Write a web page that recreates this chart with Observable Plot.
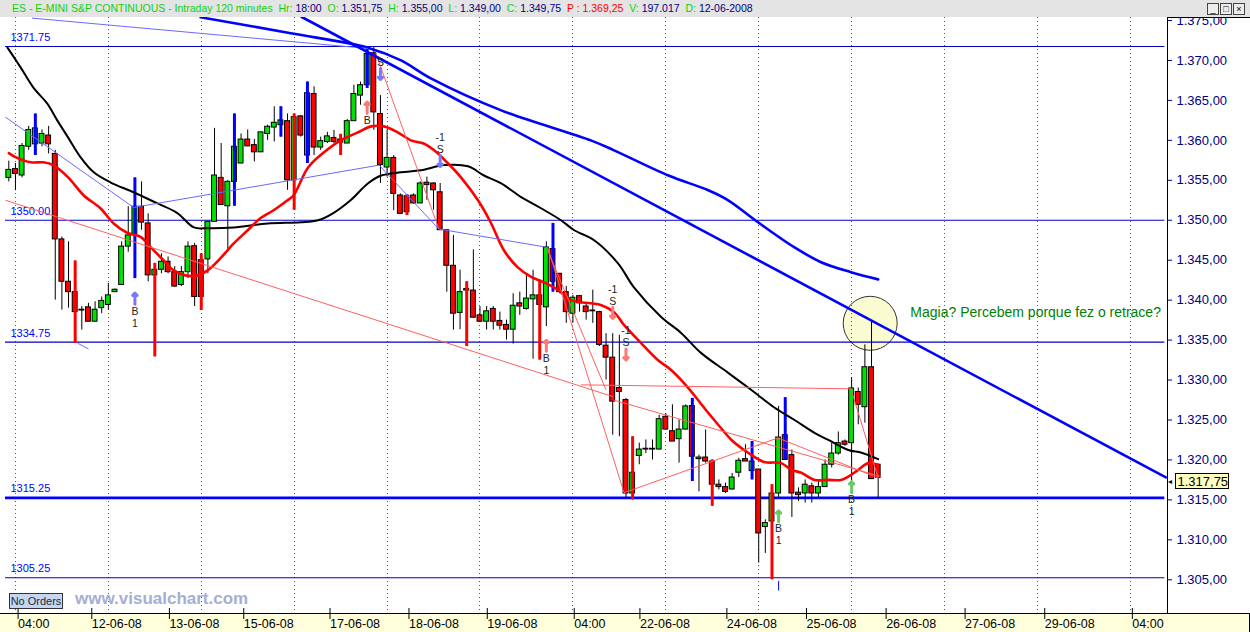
<!DOCTYPE html>
<html><head><meta charset="utf-8">
<script src="https://cdn.jsdelivr.net/npm/d3@7"></script>
<script src="https://cdn.jsdelivr.net/npm/@observablehq/plot@0.6"></script>
<style>
body{margin:0;background:#fff;}
#wrap{position:relative;width:1250px;height:632px;overflow:hidden;font-family:"Liberation Sans",Arial,sans-serif;}
#hdr{position:relative;height:17px;background:#e4e4e4;font-size:10.5px;line-height:17px;padding-left:12px;white-space:nowrap;box-sizing:border-box;}
#hdr .g{color:#10d010}#hdr .n{color:#000080}#hdr .r{color:#ff0000}
#btns{position:absolute;right:5px;top:3px;display:flex;gap:1px;}
#btns span{display:inline-block;width:10px;height:10px;border:1px solid #444;background:#ececec;font-size:9px;line-height:10px;text-align:center;color:#000;}
#chart svg{display:block;}
</style></head>
<body><div id="wrap">
<div id="hdr"><span class="g">ES - E-MINI S&amp;P CONTINUOUS - Intraday 120 minutes&nbsp; Hr: </span><span class="n">18:00</span><span class="g">&nbsp; O: </span><span class="n">1.351,75</span><span class="g">&nbsp; H: </span><span class="n">1.355,00</span><span class="g">&nbsp; L: </span><span class="n">1.349,00</span><span class="g">&nbsp; C: </span><span class="n">1.349,75</span><span class="r">&nbsp; P : 1.369,25</span><span class="g">&nbsp; V: </span><span class="n">197.017</span><span class="g">&nbsp; D: </span><span class="n">12-06-2008</span>
<div id="btns"><span>_</span><span>□</span><span>×</span></div></div>
<div id="chart"></div>
</div>
<script>
// ---- candle data (120-minute bars, index 0..131) ----
const open = [1355.3,1356.4,1355.6,1359.2,1359.5,1359.6,1360.6,1358.3,1347.6,1342.3,1341.0,1338.8,1339.1,1337.3,1339.0,1339.4,1341.0,1341.9,1346.7,1348.3,1351.7,1349.6,1343.1,1343.8,1344.8,1343.5,1341.9,1343.5,1346.75,1345.0,1345.1,1349.8,1355.3,1351.75,1354.8,1357.1,1360.1,1359.4,1358.5,1360.8,1361.6,1361.9,1362.4,1355.0,1363.0,1358.1,1365.8,1359.1,1359.8,1360.3,1360.1,1359.6,1362.4,1365.6,1366.9,1370.9,1363.3,1356.6,1357.8,1353.1,1353.0,1353.1,1352.1,1354.7,1354.6,1353.5,1348.75,1344.3,1338.4,1341.4,1341.2,1338.1,1337.3,1338.9,1337.4,1336.9,1336.3,1339.6,1338.9,1340.1,1340.6,1339.1,1346.4,1343.3,1341.0,1338.3,1340.5,1339.2,1338.7,1338.5,1334.3,1332.8,1329.0,1327.5,1315.8,1320.5,1321.3,1321.3,1321.3,1325.4,1323.6,1322.6,1323.8,1326.75,1320.1,1320.3,1319.8,1316.9,1316.6,1316.3,1318.4,1320.1,1318.6,1318.8,1311.6,1312.3,1315.8,1323.1,1320.6,1315.9,1315.8,1316.7,1315.8,1316.6,1319.4,1320.8,1322.3,1322.1,1328.5,1326.6,1331.6,1319.4];
const high = [1357.4,1357.1,1359.6,1361.75,1363.3,1361.3,1361.75,1358.75,1347.9,1347.3,1344.9,1339.2,1339.6,1339.8,1340.4,1342.1,1341.4,1347.3,1351.7,1355.3,1354.8,1350.8,1344.6,1345.8,1345.4,1344.2,1344.2,1347.3,1347.1,1345.8,1349.8,1361.5,1359.6,1355.0,1363.3,1360.8,1361.3,1360.1,1361.0,1361.9,1364.2,1364.2,1363.3,1363.3,1363.1,1367.3,1366.7,1360.4,1361.0,1361.25,1360.75,1362.6,1366.9,1367.3,1371.6,1371.75,1365.6,1361.3,1358.1,1353.3,1353.2,1353.3,1354.8,1355.4,1354.7,1354.6,1348.75,1348.1,1343.75,1342.3,1346.3,1339.2,1339.2,1339.2,1338.5,1337.5,1340.8,1341.0,1343.3,1343.75,1342.5,1347.3,1349.6,1343.3,1341.7,1340.6,1340.6,1339.6,1341.25,1338.6,1335.8,1335.8,1335.6,1327.7,1322.9,1322.1,1322.5,1322.5,1325.6,1325.8,1326.9,1325.0,1326.9,1327.7,1320.6,1323.75,1320.0,1317.5,1317.1,1318.3,1320.2,1321.9,1322.3,1318.8,1312.5,1316.9,1326.7,1327.8,1321.25,1316.5,1317.5,1317.1,1317.3,1320.0,1322.1,1323.5,1322.5,1330.3,1329.0,1334.4,1337.3,1319.4];
const low = [1354.8,1353.7,1355.3,1358.75,1358.1,1359.2,1358.3,1340.0,1338.75,1339.0,1334.6,1336.25,1337.3,1337.3,1338.3,1338.75,1341.0,1341.9,1346.0,1342.7,1348.75,1342.3,1332.9,1343.3,1343.3,1341.6,1341.7,1342.7,1339.2,1338.7,1343.3,1349.8,1351.9,1346.25,1351.75,1357.1,1359.2,1357.3,1358.5,1360.0,1359.8,1360.4,1353.75,1351.25,1360.4,1357.1,1358.1,1358.75,1359.6,1359.6,1358.1,1359.6,1362.4,1364.4,1366.5,1361.25,1354.6,1355.4,1351.2,1350.8,1350.6,1352.0,1352.1,1352.5,1351.25,1348.75,1341.0,1336.25,1336.3,1334.2,1337.8,1337.2,1336.25,1336.25,1336.25,1335.0,1334.5,1338.1,1338.75,1332.6,1332.5,1336.7,1341.0,1340.8,1337.1,1337.1,1338.5,1337.5,1337.1,1334.2,1330.0,1323.1,1322.9,1315.2,1315.0,1319.4,1320.8,1320.0,1321.25,1323.75,1322.3,1319.6,1323.75,1317.3,1316.0,1319.6,1314.2,1316.25,1315.8,1316.25,1317.8,1319.8,1317.5,1307.1,1308.3,1305.0,1315.2,1320.0,1312.8,1314.8,1314.6,1314.6,1315.2,1316.6,1319.0,1320.6,1321.7,1316.9,1324.4,1324.6,1317.6,1315.2];
const close = [1356.3,1355.8,1359.3,1361.3,1361.5,1360.8,1359.5,1347.6,1342.3,1341.0,1338.5,1338.7,1337.3,1338.8,1339.9,1340.6,1341.3,1346.7,1348.1,1351.7,1349.7,1343.1,1343.8,1344.8,1343.5,1341.7,1343.5,1346.7,1340.4,1340.4,1349.8,1355.6,1351.9,1354.8,1359.2,1360.1,1359.25,1358.5,1361.0,1361.7,1362.2,1362.5,1355.0,1362.9,1360.6,1365.9,1359.1,1359.9,1360.5,1359.8,1359.7,1362.4,1365.8,1366.9,1370.8,1363.5,1356.9,1357.8,1353.3,1350.8,1351.0,1352.1,1354.6,1354.4,1353.75,1348.75,1344.3,1338.3,1341.0,1341.2,1337.8,1337.3,1338.6,1337.3,1336.8,1336.3,1339.3,1339.2,1340.2,1340.6,1339.4,1346.6,1342.3,1341.0,1338.5,1340.3,1339.6,1338.5,1338.6,1334.4,1332.8,1327.3,1328.5,1315.8,1318.4,1321.3,1321.35,1321.35,1325.1,1323.8,1322.3,1323.8,1326.7,1320.4,1320.3,1319.8,1316.9,1316.6,1316.0,1317.8,1319.9,1319.8,1319.8,1310.8,1312.1,1315.8,1322.8,1320.0,1315.8,1315.6,1316.9,1315.8,1316.6,1319.4,1320.8,1322.1,1321.9,1328.95,1326.9,1331.6,1317.6,1317.75];

// ---- coloured signal bars (index, top, bottom) ----
const blueBarIdx = [4,19,34,41,45,54,82,103,112,117];
const blueBarTop = [1363.3,1355.3,1363.3,1364.2,1367.3,1371.6,1349.6,1327.7,1322.3,1327.8];
const blueBarBot = [1358.1,1342.7,1351.75,1360.4,1357.1,1366.5,1341.0,1317.3,1317.5,1320.0];
const redBarIdx = [10,22,29,43,50,60,69,80,94,106,115];
const redBarTop = [1344.9,1344.6,1345.8,1363.3,1360.75,1353.2,1342.3,1342.5,1322.9,1320.0,1316.9];
const redBarBot = [1334.6,1332.9,1338.7,1351.25,1358.1,1350.6,1334.2,1332.5,1315.0,1314.2,1305.0];

// ---- moving averages (bar index, price) ----
const redMA = [[0,1358.4],[1,1357.9],[3.3,1357.25],[5.2,1357.25],[6.7,1356.9],[8.9,1355.4],[11.3,1353.1],[13.8,1351.5],[15.8,1349.6],[17.9,1348.4],[19.9,1347.9],[21.4,1346.6],[23.3,1345.0],[24.8,1343.75],[26.6,1343.1],[28.5,1343.1],[30,1343.75],[31.9,1345.25],[33.9,1347.1],[36,1348.75],[37.9,1350.25],[39.9,1351.25],[42,1352.5],[42.9,1353.1],[45.1,1356.6],[47.5,1358.5],[50,1360.0],[52.6,1361.0],[54.6,1361.75],[56.5,1361.75],[58.6,1361.0],[60.6,1360.0],[62.5,1359.6],[64.1,1358.75],[66.2,1357.1],[68.1,1355.4],[70.7,1352.5],[72.6,1349.75],[74.6,1346.25],[76.7,1344.1],[78.7,1342.9],[80.6,1342.25],[82.8,1341.25],[84.7,1340.0],[87.7,1339.6],[89.2,1339.4],[91.2,1338.5],[92.7,1336.9],[95.3,1334.6],[97.8,1332.5],[99.8,1331.25],[102.4,1329.0],[104.8,1326.5],[106.9,1324.4],[108.9,1322.5],[111.4,1320.9],[113.8,1319.75],[116.4,1319.6],[117.9,1318.75],[119.4,1318.4],[121.4,1317.5],[123.5,1317.5],[125.4,1317.5],[126.5,1317.9],[128,1318.75],[129.5,1319.6],[131,1319.4]];
const blackMA = [[-0.2,1371.6],[1.8,1369.1],[3.7,1366.6],[5.8,1364.6],[7.3,1362.5],[8.9,1360.4],[10.8,1357.9],[12.8,1356.0],[15.3,1354.75],[18.8,1353.5],[22.4,1352.1],[25.4,1350.9],[27.9,1349.1],[30,1349.0],[33.9,1349.1],[39,1349.6],[44,1349.75],[46.6,1350.0],[48.9,1350.9],[51.5,1352.5],[54.1,1354.6],[56.1,1355.6],[59.1,1356.0],[62.1,1356.25],[65.6,1356.9],[69.2,1356.75],[71.6,1355.6],[74.2,1354.6],[77.2,1352.9],[80.2,1351.5],[83.2,1350.0],[85.2,1348.75],[88.2,1347.5],[91.8,1344.6],[94.2,1341.6],[98.3,1337.9],[101.3,1335.9],[104.3,1333.4],[108.4,1330.9],[111.9,1328.75],[115.3,1326.6],[118.4,1325.0],[121.4,1323.4],[123.5,1322.5],[126.5,1321.25],[128.5,1320.9],[131,1320.1]];
const blueMA = [[28.9,1375.4],[42.5,1373.4],[54.1,1371.6],[59.1,1370.0],[63.6,1367.75],[74.2,1363.75],[87.7,1360.0],[91.2,1358.75],[99.4,1355.6],[105.4,1353.75],[108.4,1352.5],[112.9,1349.75],[118.4,1346.6],[122.4,1344.75],[126.9,1343.5],[131,1342.6]];

// ---- drawn trend lines [i1, p1, i2, p2] ----
const mainTrend = [[44,1375.5,174.5,1317.75]];
const thinBlue = [[-0.5,1362.9,18.8,1351.6],[18.8,1351.6,55.8,1356.9],[55.8,1356.9,64.8,1348.9],[64.8,1348.9,81.2,1346.6],[3.5,1375.3,54.1,1371.5],[10.4,1334.6,12,1333.9]];
const thinRed = [[-0.5,1352.5,91.1,1327.9],[55.3,1370.9,64.8,1348.9],[81.2,1346.6,92.7,1315.9],[81.2,1346.25,90,1328.75],[86.2,1329.4,126.9,1328.9],[91.1,1327.5,131.5,1317.9],[92.7,1315.9,115.9,1322.75],[115.9,1322.75,131,1317.75],[126.9,1328.9,131,1317.75]];

// ---- horizontal levels ----
const levels = [1371.75,1350.00,1334.75,1315.25,1305.25];
const levelLabels = ["1371.75","1350.00","1334.75","1315.25","1305.25"];

// ---- buy / sell signals ----
const sigIdx   = [19,54,56,65,81,91,93,116,127];
const sigPrice = [1339.5,1363.4,1369.0,1358.1,1333.6,1339.1,1333.9,1312.25,1315.9];
const sigSide  = ["B","B","S","S","B","S","S","B","B"];
const sigColor = ["#7878ff","#ff7878","#7878ff","#7878ff","#ff7878","#ff7878","#ff7878","#66cc66","#66cc66"];
const sigQty   = ["1","","","-1","1","-1","-1","1","1"];

// ---- axis ticks ----
const priceTicks = [1305,1310,1315,1320,1325,1330,1335,1340,1345,1350,1355,1360,1365,1370,1375];
const gridIdx = [1,15,29,43,57,71,85,99,113,127,141,155,169];
const timeTickIdx = [1.1,12.2,23.9,35.1,48.1,60,71.8,84.9,94.8,107.9,119.9,131.9,143.8,155.8,169.0];
const timeTickLabels = ["04:00","12-06-08","13-06-08","15-06-08","17-06-08","18-06-08","19-06-08","04:00","22-06-08","24-06-08","25-06-08","26-06-08","27-06-08","29-06-08","04:00"];

// ---- annotation ----
const noteText = "Magia? Percebem porque fez o retrace?";
const noteIdx = 135.85, notePrice = 1338.4;
const circleIdx = 129.8, circlePrice = 1337.1;
const lastClose = close[close.length - 1];

// ---------------------------------------------------------------
const bars = open.map((o, i) => ({i, o, h: high[i], l: low[i], c: close[i]}));
const blueBars = blueBarIdx.map((i, k) => ({i, t: blueBarTop[k], b: blueBarBot[k]}));
const redBars = redBarIdx.map((i, k) => ({i, t: redBarTop[k], b: redBarBot[k]}));
const sigs = sigIdx.map((i, k) => ({i, p: sigPrice[k], side: sigSide[k], color: sigColor[k], qty: sigQty[k]}));
const ups = sigs.filter(s => s.side === "B"), downs = sigs.filter(s => s.side === "S");
const tickLabel = new Map(timeTickIdx.map((v, k) => [v, timeTickLabels[k]]));
const fmtAxis = d => "1." + String(d - 1000) + ",00";
const fmtFull = p => { const s = p.toFixed(2).split("."); return "1." + (+s[0] - 1000) + "," + s[1]; };
const seg = arr => arr.map(a => ({x1: a[0], y1: a[1], x2: a[2], y2: a[3]}));
const pts = arr => arr.map(a => ({x: a[0], y: a[1]}));

const GREEN = "#00e000", RED = "#ff0000";
const W = 1250, H = 615, FR = 1167, FB = 596;

const chart = Plot.plot({
  width: W, height: H,
  marginLeft: 0, marginRight: W - FR, marginTop: 0, marginBottom: H - FB,
  x: {domain: [-1.252, 174.6], range: [0, FR]},
  y: {domain: [1300.78, 1375.375], range: [FB, 0]},
  style: {fontFamily: '"Liberation Sans", Arial, sans-serif', background: "transparent", overflow: "visible"},
  marks: [
    Plot.dot([0], {x: () => circleIdx, y: () => circlePrice, r: 27, fill: "#fbfbd2", stroke: "#333", strokeWidth: 1}),
    Plot.ruleX(gridIdx, {stroke: "#5a5a5a", strokeDasharray: "1,3", strokeWidth: 1, shapeRendering: "crispEdges"}),
    Plot.ruleY(levels.filter(v => v !== 1315.25), {x1: -0.5, x2: 174.2, stroke: "#0000c8", strokeWidth: 1.1}),
    Plot.ruleY([1315.25], {x1: -0.5, x2: 174.2, stroke: "#0000ff", strokeWidth: 2.6}),
    Plot.text(levels, {y: d => d, text: (d, k) => levelLabels[k], frameAnchor: "left", dx: 10, dy: -9, textAnchor: "start", fill: "#0000ff", fontSize: 11}),
    // candles
    Plot.ruleX(bars, {x: "i", y1: "l", y2: "h", stroke: "#000", strokeWidth: 1}),
    Plot.rect(bars, {
      x1: d => d.i - 0.37, x2: d => d.i + 0.37,
      y1: d => Math.min(d.o, d.c), y2: d => Math.max(Math.max(d.o, d.c), Math.min(d.o, d.c) + 0.1),
      fill: d => d.c >= d.o ? GREEN : RED, stroke: "#000", strokeWidth: 1
    }),
    Plot.ruleX(redBars, {x: "i", y1: "b", y2: "t", stroke: RED, strokeWidth: 3}),
    Plot.ruleX(blueBars, {x: "i", y1: "b", y2: "t", stroke: "#0000ff", strokeWidth: 3}),
    // moving averages
    Plot.line(pts(blackMA), {x: "x", y: "y", stroke: "#000", strokeWidth: 2, curve: "catmull-rom"}),
    Plot.line(pts(redMA), {x: "x", y: "y", stroke: RED, strokeWidth: 2.6, curve: "catmull-rom"}),
    Plot.line(pts(blueMA), {x: "x", y: "y", stroke: "#0000ff", strokeWidth: 2.6, curve: "catmull-rom"}),
    // drawn lines
    Plot.link(seg(thinRed), {x1: "x1", y1: "y1", x2: "x2", y2: "y2", stroke: "#ff6060", strokeWidth: 1}),
    Plot.link(seg(thinBlue), {x1: "x1", y1: "y1", x2: "x2", y2: "y2", stroke: "#6a6aff", strokeWidth: 1}),
    Plot.link(seg(mainTrend), {x1: "x1", y1: "y1", x2: "x2", y2: "y2", stroke: "#0000ff", strokeWidth: 2.6}),
    // signals
    Plot.vector(ups, {x: "i", y: "p", length: 11, rotate: 0, anchor: "start", stroke: "color", strokeWidth: 3}),
    Plot.vector(downs, {x: "i", y: "p", length: 11, rotate: 180, anchor: "start", stroke: "color", strokeWidth: 3}),
    Plot.text(ups, {x: "i", y: "p", text: () => "B", dy: 7, fontSize: 10.5, fill: "#222"}),
    Plot.text(ups, {x: "i", y: "p", text: "qty", dy: 19, fontSize: 10.5, fill: "#222"}),
    Plot.text(downs, {x: "i", y: "p", text: () => "S", dy: -6, fontSize: 10.5, fill: "#222"}),
    Plot.text(downs, {x: "i", y: "p", text: "qty", dy: -18, fontSize: 10.5, fill: "#222"}),
    Plot.ruleX([116], {y1: 1304.8, y2: 1303.6, stroke: "#0000ff", strokeWidth: 1}),
    // annotation
    Plot.text([noteText], {x: () => noteIdx, y: () => notePrice, text: d => d, textAnchor: "start", fill: "#008000", fontSize: 14}),
    // axes
    Plot.ruleX([174.6], {stroke: "#000", strokeWidth: 1}),
    Plot.axisY({anchor: "right", ticks: priceTicks, tickFormat: fmtAxis, tickSize: 4, tickPadding: 5, fontSize: 13, color: "#000080"}),
    Plot.axisX({anchor: "bottom", ticks: timeTickIdx, tickFormat: d => tickLabel.get(d), tickSize: 11, tickPadding: 0, textAnchor: "start", dx: 2, dy: -5, fontSize: 12.5, color: "#000"})
  ]
});

document.getElementById("chart").appendChild(chart);

// --- static decorations ---
const svg = d3.select(chart);
svg.insert("rect", ":first-child").attr("x", 0).attr("y", FB).attr("width", W).attr("height", H - FB).attr("fill", "#ffffdc");
svg.append("line").attr("x1", 0).attr("x2", W).attr("y1", FB + 0.5).attr("y2", FB + 0.5).attr("stroke", "#000");
svg.append("line").attr("x1", W - 0.5).attr("x2", W - 0.5).attr("y1", FB).attr("y2", H).attr("stroke", "#000");
svg.append("line").attr("x1", FR).attr("x2", W).attr("y1", 0.5).attr("y2", 0.5).attr("stroke", "#000");
const nb = svg.append("g").attr("transform", "translate(9.5,576.5)");
nb.append("rect").attr("width", 53).attr("height", 15).attr("fill", "#c6d6ee").attr("stroke", "#333");
nb.append("text").attr("x", 26.5).attr("y", 11.5).attr("text-anchor", "middle").attr("font-size", 11).attr("fill", "#1a2a40").text("No Orders");
svg.append("text").attr("x", 75).attr("y", 587).attr("text-anchor", "start").attr("font-size", 17).attr("font-weight", "bold").attr("fill", "#a6aed4").text("www.visualchart.com");
const tag = svg.append("g").attr("transform", "translate(1175.5,456.5)");
tag.append("rect").attr("width", 53).attr("height", 15).attr("fill", "#ffffc0").attr("stroke", "#000");
tag.append("text").attr("x", 2).attr("y", 12).attr("text-anchor", "start").attr("font-size", 13).attr("fill", "#000").text(fmtFull(lastClose));
svg.append("text").attr("x", 1168).attr("y", 467).attr("text-anchor", "start").attr("font-size", 8).attr("fill", "#000").text("◂");
</script>
</body></html>
